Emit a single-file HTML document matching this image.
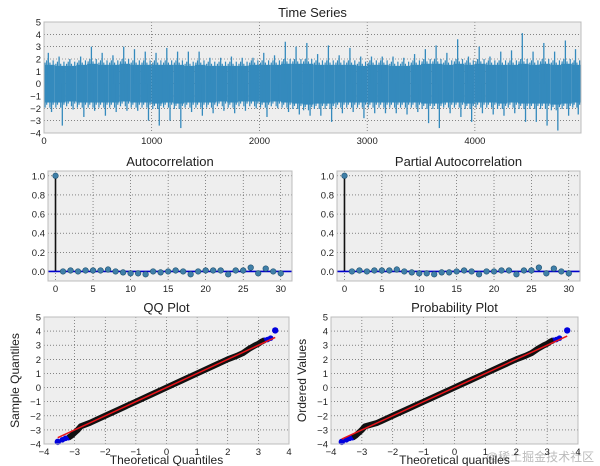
<!DOCTYPE html>
<html><head><meta charset="utf-8">
<style>
body{margin:0;background:#fff;}
svg{display:block;font-family:"Liberation Sans","DejaVu Sans",sans-serif;}
</style></head>
<body>
<svg id="fig" width="600" height="466" viewBox="0 0 600 466">
<text x="540" y="461" font-size="12" fill="#bbb" text-anchor="middle" font-family="'Liberation Sans','Noto Sans CJK SC',sans-serif">@稀土掘金技术社区</text>
</svg>
<script>
// ---- data ----
const tsBinStarts = [0,100,200,300,400,500,600,700,800,900,1000,1100,1200,1300,1400,1500,1600,1700,1800,1900,2000,2100,2200,2300,2400,2500,2600,2700,2800,2900,3000,3100,3200,3300,3400,3500,3600,3700,3800,3900,4000,4100,4200,4300,4400,4500,4600,4700,4800,4900];
const tsMax = [2.5,2.2,2.0,2.2,3.0,2.5,2.3,3.0,2.8,2.6,2.5,2.9,2.6,2.6,2.6,2.1,2.1,2.2,2.1,2.1,2.5,2.3,3.4,3.0,3.3,2.4,3.1,2.3,2.9,2.2,2.2,2.2,2.2,2.1,2.4,2.8,3.1,2.5,3.6,2.2,3.0,2.2,2.6,2.7,4.1,2.6,3.3,2.6,3.5,2.8];
const tsMin = [-2.3,-3.4,-2.1,-2.7,-2.2,-2.6,-2.3,-2.2,-2.2,-3.0,-3.4,-3.0,-3.6,-2.3,-2.6,-2.4,-2.2,-2.4,-2.2,-2.0,-2.7,-2.0,-2.3,-2.5,-2.6,-2.6,-3.1,-2.4,-2.3,-2.8,-2.4,-2.4,-2.4,-2.5,-2.3,-3.2,-3.6,-2.4,-2.7,-3.1,-2.4,-2.5,-2.6,-2.4,-3.1,-3.1,-3.4,-3.8,-2.6,-2.5];
const tsBandHi = [1.8,1.7,1.7,1.8,1.9,1.8,1.8,1.9,1.8,1.8,1.8,1.8,1.8,1.7,1.8,1.7,1.7,1.7,1.7,1.8,1.8,1.8,1.9,1.9,1.9,1.8,1.8,1.8,1.8,1.7,1.8,1.8,1.7,1.7,1.8,1.9,1.9,1.8,1.9,1.8,1.9,1.8,1.8,1.8,1.9,1.8,1.9,1.8,1.9,1.8];
const tsBandLo = [-1.8,-1.8,-1.7,-1.8,-1.8,-1.8,-1.8,-1.7,-1.8,-1.8,-1.9,-1.8,-1.9,-1.8,-1.8,-1.8,-1.7,-1.8,-1.7,-1.7,-1.8,-1.7,-1.8,-1.9,-2.0,-1.9,-1.9,-1.8,-1.8,-1.8,-1.8,-1.8,-1.8,-1.8,-1.8,-1.9,-1.9,-1.8,-1.8,-1.9,-1.8,-1.8,-1.9,-1.8,-1.9,-1.9,-1.9,-2.0,-1.9,-1.8];
const tsXTicks = [0,1000,2000,3000,4000];
const tsYTicks = [-4,-3,-2,-1,0,1,2,3,4,5];
const acfLags = [0,1,2,3,4,5,6,7,8,9,10,11,12,13,14,15,16,17,18,19,20,21,22,23,24,25,26,27,28,29,30];
const acfVals = [1,0,0.01,0,0.01,0.01,0.01,0.02,0,-0.01,-0.02,-0.02,-0.03,0,-0.01,0,0.01,0,-0.03,0,0.01,0.01,0.01,-0.03,0.01,0.01,0.04,-0.02,0.03,0,-0.02];
const pacfVals = [1,0,0.01,0,0.01,0.01,0.01,0.02,0,-0.01,-0.02,-0.02,-0.03,-0.01,-0.01,0,0.01,0,-0.03,0,0,0.01,0.01,-0.03,0.01,0.01,0.04,-0.02,0.03,0,-0.02];
const corrXTicks = [0,5,10,15,20,25,30];
const corrYTicks = [0,0.2,0.4,0.6,0.8,1.0];
const qqTheo = [-3.55,-3.4,-3.3,-3.2,-3.1,-3.0,-2.9,-2.8,-2.5,-2.0,-1.5,-1.0,-0.5,0,0.5,1.0,1.5,2.0,2.3,2.5,2.7,2.9,3.0,3.1,3.2,3.3,3.4,3.55];
const qqSample = [-3.85,-3.7,-3.6,-3.55,-3.4,-3.2,-3.0,-2.75,-2.5,-2.0,-1.5,-1.0,-0.5,0,0.5,1.0,1.5,2.0,2.25,2.45,2.75,3.0,3.1,3.25,3.35,3.4,3.5,4.05];
const ppTheo = [-3.65,-3.5,-3.4,-3.3,-3.2,-3.1,-3.0,-2.9,-2.5,-2.0,-1.5,-1.0,-0.5,0,0.5,1.0,1.5,2.0,2.3,2.5,2.7,2.9,3.0,3.1,3.2,3.3,3.4,3.65];
const qqXTicks = [-4,-3,-2,-1,0,1,2,3,4];
const qqYTicks = [-4,-3,-2,-1,0,1,2,3,4,5];

const NS='http://www.w3.org/2000/svg';
const svg=document.getElementById('fig');
function el(tag,attrs,parent){const e=document.createElementNS(NS,tag);for(const k in attrs)e.setAttribute(k,attrs[k]);(parent||svg).appendChild(e);return e;}
function txt(s,attrs,parent){const e=el('text',attrs,parent);e.textContent=s;return e;}
function lin(d0,d1,r0,r1){return v=>r0+(v-d0)*(r1-r0)/(d1-d0);}

function axes(name,x0,y0,x1,y1,sx,sy,xt,yt,xfmt,yfmt,title){
  const g=el('g',{});
  
  
  el('rect',{x:x0,y:y0,width:x1-x0,height:y1-y0,fill:'#eeeeee'},g);
  xt.forEach(v=>{const x=sx(v);
    el('line',{x1:x,x2:x,y1:y0,y2:y1,stroke:'#444','stroke-width':0.6,'stroke-dasharray':'1,2'},g);
    const t=txt(xfmt(v),{x:x,y:y1+11,'font-size':9.5,'text-anchor':'middle',fill:'#222'},g);
    });
  yt.forEach(v=>{const y=sy(v);
    el('line',{x1:x0,x2:x1,y1:y,y2:y,stroke:'#444','stroke-width':0.6,'stroke-dasharray':'1,2'},g);
    const t=txt(yfmt(v),{x:x0-3,y:y+3.5,'font-size':9.5,'text-anchor':'end',fill:'#222'},g);
    });
  const tt=txt(title,{x:(x0+x1)/2,y:y0-5,'font-size':13,'text-anchor':'middle',fill:'#222'});
  
  return g;
}
function frame(x0,y0,x1,y1){el('rect',{x:x0,y:y0,width:x1-x0,height:y1-y0,fill:'none',stroke:'#bcbcbc','stroke-width':1});}
const fmtInt=v=>(v<0?'\u2212':'')+Math.abs(v);

// ---- time series ----
(function(){
  const x0=44,x1=581,y0=22,y1=133;
  const sx=lin(0,4985,x0,x1), sy=lin(5,-4,y0,y1);
  const g=axes('time-series-plot',x0,y0,x1,y1,sx,sy,tsXTicks,tsYTicks,v=>''+v,fmtInt,'Time Series');
  tsBinStarts.forEach((s,i)=>{
    const w=Math.min(100,4985-s);
    const b=el('rect',{x:sx(s),y:sy(tsBandHi[i]*0.85),width:sx(s+w)-sx(s),height:sy(tsBandLo[i]*0.85)-sy(tsBandHi[i]*0.85),fill:'#348abd'},g);
    
    // jagged edges of the band
    [0.1,0.25,0.55,0.85].forEach((f,k)=>{
      const x=sx(s+w*f);
      const h=tsBandHi[i]*(k%2?1.05:0.95), l=tsBandLo[i]*(k%2?0.95:1.08);
      const e=el('line',{x1:x,x2:x,y1:sy(h),y2:sy(l),stroke:'#348abd','stroke-width':1.2},g);
      
    });
    const m=sx(s+w*0.4), n=sx(s+w*0.7);
    const sp=el('line',{x1:m,x2:m,y1:sy(tsMax[i]),y2:sy(0),stroke:'#348abd','stroke-width':1.3},g);
    
    const sn=el('line',{x1:n,x2:n,y1:sy(tsMin[i]),y2:sy(0),stroke:'#348abd','stroke-width':1.3},g);
    
  });
  frame(x0,y0,x1,y1);
})();

// ---- ACF / PACF ----
function corrPlot(name,title,vals,x0,x1){
  const y0=171,y1=281;
  const sx=lin(-1,31.5,x0,x1), sy=lin(1.05,-0.1,y0,y1);
  const g=axes(name,x0,y0,x1,y1,sx,sy,corrXTicks,corrYTicks,v=>''+v,v=>v.toFixed(1),title);
  acfLags.forEach((l,i)=>{
    el('line',{x1:sx(l),x2:sx(l),y1:sy(0),y2:sy(vals[i]),stroke:'#111','stroke-width':1.6},g);
  });
  el('line',{x1:x0,x2:x1,y1:sy(0),y2:sy(0),stroke:'#0000cc','stroke-width':1.6},g);
  acfLags.forEach((l,i)=>{
    const c=el('circle',{cx:sx(l),cy:sy(vals[i]),r:2.8,fill:'#3f7fa8',stroke:'#20506e','stroke-width':0.6},g);
    
  });
  frame(x0,y0,x1,y1);
}
corrPlot('autocorrelation-plot','Autocorrelation',acfVals,48,292);
corrPlot('partial-autocorrelation-plot','Partial Autocorrelation',pacfVals,337,580);

// ---- QQ / Prob ----
function qqPlot(name,title,theo,samp,x0,x1,ylab,xlab){
  const y0=317,y1=444;
  const sx=lin(-4,4,x0,x1), sy=lin(5,-4,y0,y1);
  const g=axes(name,x0,y0,x1,y1,sx,sy,qqXTicks,qqYTicks,fmtInt,fmtInt,title);
  const n=theo.length;
  theo.forEach((t,i)=>{
    const c=el('circle',{cx:sx(t),cy:sy(samp[i]),r:(i===0||i===n-1)?3.2:2.8,fill:'#0000dd'},g);
    
  });
  const pts=theo.map((t,i)=>sx(t)+','+sy(samp[i])).slice(3,n-3).join(' ');
  const pl=el('polyline',{points:pts,fill:'none',stroke:'#111','stroke-width':6,'stroke-linejoin':'round'},g);
  
  const r=el('line',{x1:sx(theo[0]),y1:sy(theo[0]),x2:sx(theo[n-1]),y2:sy(theo[n-1]),stroke:'#e8141a','stroke-width':1.5},g);
  
  frame(x0,y0,x1,y1);
  const yl=txt(ylab,{x:0,y:0,'font-size':12,'text-anchor':'middle',fill:'#222',transform:`translate(${x0-25},${(y0+y1)/2}) rotate(-90)`});
  
  const xl=txt(xlab,{x:(x0+x1)/2,y:y1+20,'font-size':12,'text-anchor':'middle',fill:'#222'});
  
}
qqPlot('qq-plot','QQ Plot',qqTheo,qqSample,44,289,'Sample Quantiles','Theoretical Quantiles');
qqPlot('probability-plot','Probability Plot',ppTheo,qqSample,331,578,'Ordered Values','Theoretical quantiles');
</script>
</body></html>
